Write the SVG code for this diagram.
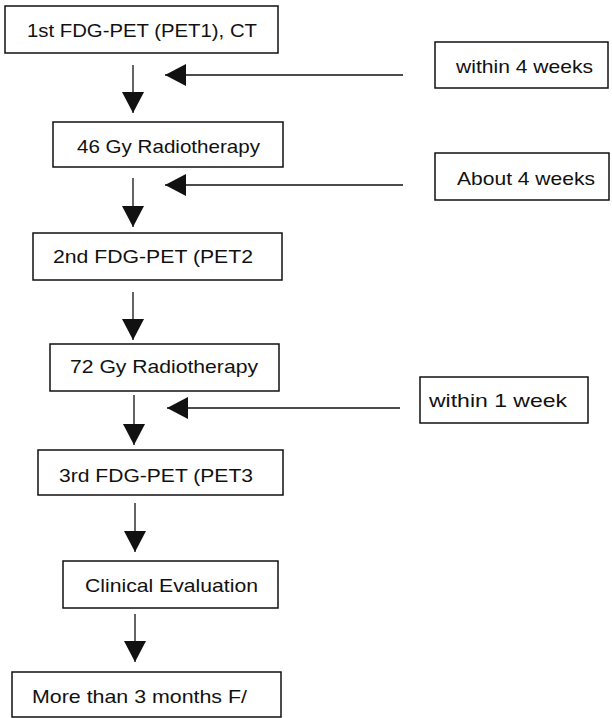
<svg xmlns="http://www.w3.org/2000/svg" width="612" height="718" viewBox="0 0 612 718">
<style>
.box{fill:#fff;stroke:#111;stroke-width:1.5}
.lbl{font-family:"Liberation Sans",Arial,sans-serif;font-size:18.5px;fill:#111}
.ln{stroke:#111;stroke-width:1.3;fill:none;marker-end:url(#ah)}
</style>
<defs>
<marker id="ah" markerUnits="userSpaceOnUse" markerWidth="22" markerHeight="24" refX="21" refY="11" orient="auto" viewBox="0 0 22 22">
<path d="M0,0 L21,11 L0,22 Z" fill="#111"/>
</marker>
</defs>
<rect width="612" height="718" fill="#fff"/>
<g id="connectors">
<line class="ln" x1="133" y1="65" x2="133" y2="113"/>
<line class="ln" x1="133" y1="178" x2="133" y2="227"/>
<line class="ln" x1="133" y1="292" x2="133" y2="340"/>
<line class="ln" x1="134" y1="395" x2="134" y2="445"/>
<line class="ln" x1="135" y1="503" x2="135" y2="552"/>
<line class="ln" x1="135" y1="614" x2="135" y2="662"/>
<line class="ln" x1="403" y1="75" x2="165" y2="75"/>
<line class="ln" x1="403" y1="185" x2="165" y2="185"/>
<line class="ln" x1="400" y1="408" x2="167" y2="408"/>
</g>
<g id="pet1"><rect class="box" x="5" y="6" width="273" height="47"/><text class="lbl" x="27" y="37" textLength="230" lengthAdjust="spacingAndGlyphs">1st FDG-PET (PET1), CT</text></g>
<g id="within4"><rect class="box" x="435" y="42" width="173" height="46"/><text class="lbl" x="456" y="73" textLength="137" lengthAdjust="spacingAndGlyphs">within 4 weeks</text></g>
<g id="rt46"><rect class="box" x="53" y="122" width="230" height="45"/><text class="lbl" x="77" y="153" textLength="183" lengthAdjust="spacingAndGlyphs">46 Gy Radiotherapy</text></g>
<g id="about4"><rect class="box" x="435" y="153" width="174" height="47"/><text class="lbl" x="457" y="185" textLength="138" lengthAdjust="spacingAndGlyphs">About 4 weeks</text></g>
<g id="pet2"><rect class="box" x="33" y="233" width="249" height="47"/><text class="lbl" x="53" y="263" textLength="200" lengthAdjust="spacingAndGlyphs">2nd FDG-PET (PET2</text></g>
<g id="rt72"><rect class="box" x="50" y="344" width="229" height="47"/><text class="lbl" x="70" y="373" textLength="188" lengthAdjust="spacingAndGlyphs">72 Gy Radiotherapy</text></g>
<g id="within1"><rect class="box" x="420" y="377" width="168" height="46"/><text class="lbl" x="429" y="407" textLength="138" lengthAdjust="spacingAndGlyphs">within 1 week</text></g>
<g id="pet3"><rect class="box" x="38" y="450" width="245" height="45"/><text class="lbl" x="59" y="482" textLength="194" lengthAdjust="spacingAndGlyphs">3rd FDG-PET (PET3</text></g>
<g id="clinical"><rect class="box" x="63" y="561" width="215" height="47"/><text class="lbl" x="85" y="592" textLength="173" lengthAdjust="spacingAndGlyphs">Clinical Evaluation</text></g>
<g id="followup"><rect class="box" x="12" y="672" width="269" height="45"/><text class="lbl" x="32" y="703" textLength="215" lengthAdjust="spacingAndGlyphs">More than 3 months F/</text></g>
</svg>
